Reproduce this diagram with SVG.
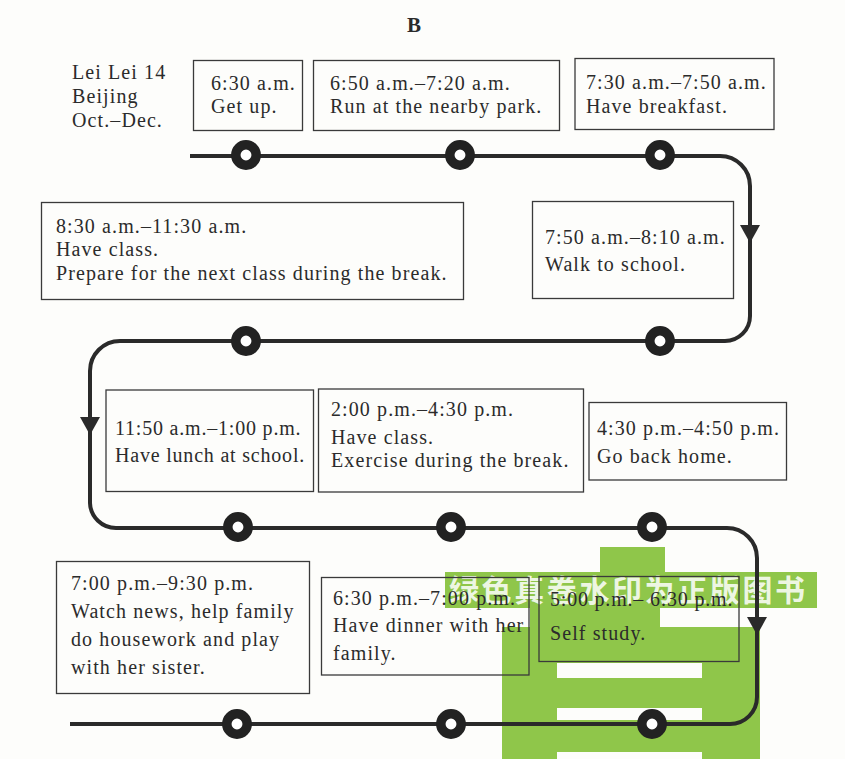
<svg xmlns="http://www.w3.org/2000/svg" width="845" height="759" viewBox="0 0 845 759">
<style>
.t{font-family:"Liberation Serif","Times New Roman",serif;font-size:20px;fill:#2b2b2b;letter-spacing:1.1px}
.tn{letter-spacing:0.8px}
.box{fill:none;stroke:#3a3a3a;stroke-width:1.3}
.route{fill:none;stroke:#2a2a2a;stroke-width:4}
.ring{fill:#fff;stroke:#222;stroke-width:9.5}
.arr{fill:#2a2a2a}
.wm{fill:#8fc64a}
.wmt{font-family:"Noto Sans CJK SC",sans-serif;font-weight:bold;font-size:30px;fill:#ffffff;fill-opacity:0.85;letter-spacing:2.6px}
</style>
<rect x="0" y="0" width="845" height="759" fill="#fdfdfb"/>
<g id="watermark">
<rect class="wm" x="600" y="547" width="65" height="26"/>
<rect class="wm" x="445" y="572" width="372" height="36"/>
<rect class="wm" x="530" y="607" width="130" height="21"/>
<rect class="wm" x="502" y="627" width="258" height="132"/>
<rect x="557" y="663" width="145" height="15" fill="#fdfdfb"/>
<rect x="557" y="708" width="145" height="12" fill="#fdfdfb"/>
<rect x="557" y="752" width="145" height="7" fill="#fdfdfb"/>
<text class="wmt" x="449" y="601">绿色真卷水印为正版图书</text>
</g>
<text x="414" y="32" text-anchor="middle" font-family="Liberation Serif,serif" font-weight="bold" font-size="21" fill="#2b2b2b">B</text>
<g id="profile">
<text class="t" x="72" y="79">Lei Lei 14</text>
<text class="t" x="72" y="103">Beijing</text>
<text class="t" x="72" y="127">Oct.–Dec.</text>
</g>
<g id="connectors">
<path class="route" d="M190,156 H720 A30,30 0 0 1 750,186 V316 A25,25 0 0 1 725,341 H120 A30,30 0 0 0 90,371 V503 A26,26 0 0 0 116,528 H727 A30,30 0 0 1 757,558 V697 A27,27 0 0 1 730,724 H70"/>
<polygon class="arr" points="740,225 760,225 750,243"/>
<polygon class="arr" points="80,417 100,417 90,435"/>
<polygon class="arr" points="747,617 767,617 757,635"/>
<circle class="ring" cx="246" cy="155" r="10.2"/>
<circle class="ring" cx="460" cy="155" r="10.2"/>
<circle class="ring" cx="660" cy="155" r="10.2"/>
<circle class="ring" cx="246" cy="341" r="10.2"/>
<circle class="ring" cx="660" cy="341" r="10.2"/>
<circle class="ring" cx="238" cy="527" r="10.2"/>
<circle class="ring" cx="451" cy="527" r="10.2"/>
<circle class="ring" cx="652" cy="527" r="10.2"/>
<circle class="ring" cx="237" cy="724" r="10.2"/>
<circle class="ring" cx="451" cy="724" r="10.2"/>
<circle class="ring" cx="652" cy="724" r="10.2"/>
</g>
<g id="n1">
<rect class="box" x="193.5" y="60.5" width="109" height="70"/>
<text class="t" x="211" y="90">6:30 a.m.</text>
<text class="t" x="211" y="113">Get up.</text>
</g>
<g id="n2">
<rect class="box" x="313.5" y="60.5" width="246" height="70"/>
<text class="t" x="330" y="90">6:50 a.m.–7:20 a.m.</text>
<text class="t" x="330" y="113">Run at the nearby park.</text>
</g>
<g id="n3">
<rect class="box" x="575" y="58.5" width="199" height="71"/>
<text class="t" x="586" y="89">7:30 a.m.–7:50 a.m.</text>
<text class="t" x="586" y="112.5">Have breakfast.</text>
</g>
<g id="n4">
<rect class="box" x="532.5" y="201.5" width="201" height="97"/>
<text class="t" x="545" y="244">7:50 a.m.–8:10 a.m.</text>
<text class="t" x="545" y="271">Walk to school.</text>
</g>
<g id="n5">
<rect class="box" x="41.5" y="202.5" width="422" height="97"/>
<text class="t" x="56" y="233">8:30 a.m.–11:30  a.m.</text>
<text class="t" x="56" y="256">Have class.</text>
<text class="t" x="56" y="279.5">Prepare for the next class during the break.</text>
</g>
<g id="n6">
<rect class="box" x="106" y="390" width="207.5" height="101.5"/>
<text class="t tn" x="115" y="435">11:50 a.m.–1:00 p.m.</text>
<text class="t tn" x="115" y="461.5">Have lunch at school.</text>
</g>
<g id="n7">
<rect class="box" x="318.5" y="389" width="265" height="103"/>
<text class="t" x="331" y="415.5">2:00 p.m.–4:30 p.m.</text>
<text class="t" x="331" y="444">Have class.</text>
<text class="t" x="331" y="467">Exercise during the break.</text>
</g>
<g id="n8">
<rect class="box" x="589" y="402.5" width="197.5" height="77.5"/>
<text class="t" x="597" y="435">4:30 p.m.–4:50 p.m.</text>
<text class="t" x="597" y="463">Go back home.</text>
</g>
<g id="n9">
<rect class="box" x="539" y="576.5" width="200" height="85"/>
<text class="t tn" x="550" y="606">5:00 p.m.– 6:30 p.m.</text>
<text class="t" x="550" y="640">Self study.</text>
</g>
<g id="n10">
<rect class="box" x="321.5" y="577.5" width="207.5" height="97.5"/>
<text class="t" x="333" y="605">6:30 p.m.–7:00 p.m.</text>
<text class="t" x="333" y="632">Have dinner with her</text>
<text class="t" x="333" y="660">family.</text>
</g>
<g id="n11">
<rect class="box" x="56.5" y="561.5" width="253" height="132"/>
<text class="t" x="71" y="590">7:00 p.m.–9:30 p.m.</text>
<text class="t" x="71" y="618">Watch news, help family</text>
<text class="t" x="71" y="646">do housework and play</text>
<text class="t" x="71" y="674">with her sister.</text>
</g>
</svg>
